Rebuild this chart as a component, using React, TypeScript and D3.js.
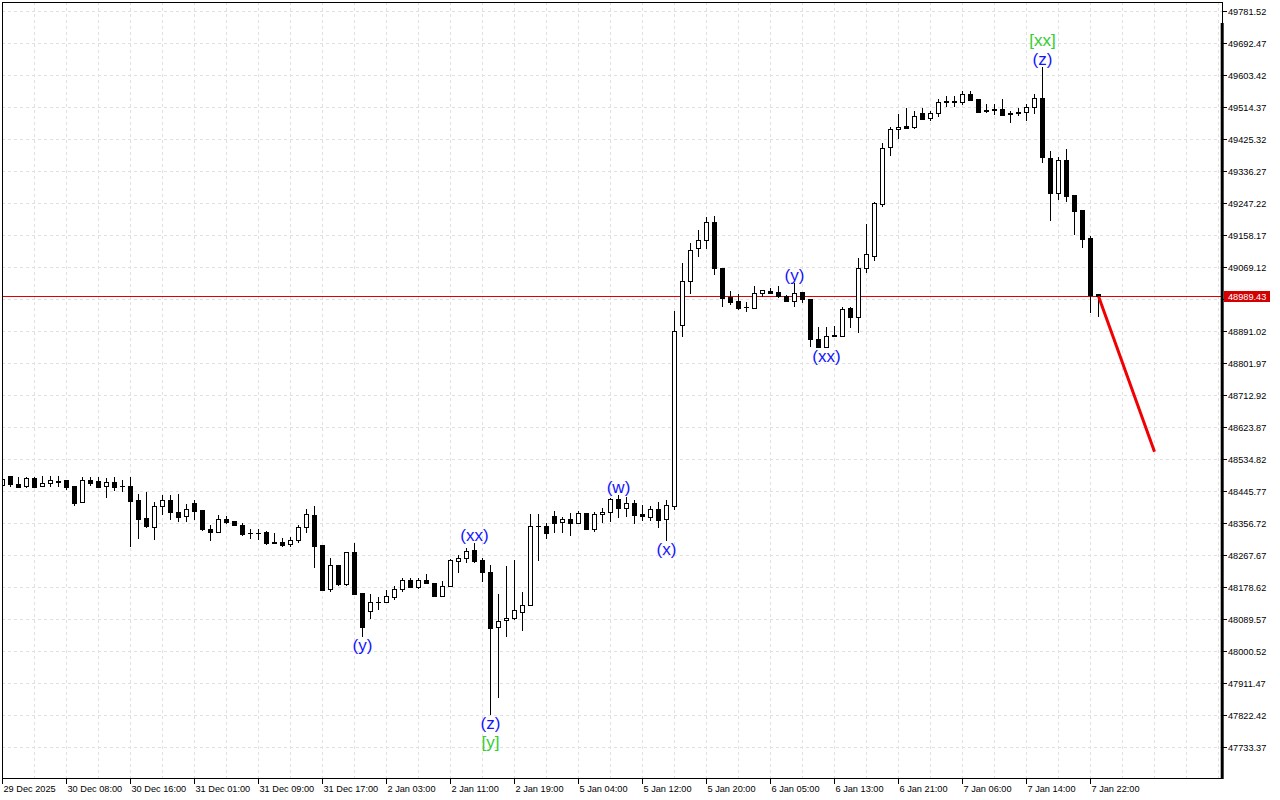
import React from "react";
import * as d3 from "d3";

// hourly candles, oldest first
const opens = [
  48464, 48489, 48467, 48462, 48485, 48462, 48469, 48476, 48478, 48461,
  48418, 48477, 48476, 48462, 48472, 48462, 48462, 48423, 48372, 48348,
  48406, 48423, 48390, 48379, 48415, 48394, 48342, 48334, 48370, 48364,
  48353, 48331, 48330, 48333, 48306, 48307, 48300, 48311, 48347, 48381,
  48297, 48174, 48243, 48188, 48277, 48163, 48115, 48138, 48140, 48154,
  48174, 48200, 48181, 48200, 48191, 48156, 48184, 48254, 48260, 48284,
  48256, 48221, 48070, 48089, 48093, 48112, 48131, 48351, 48351, 48378,
  48362, 48370, 48358, 48386, 48341, 48383, 48388, 48425, 48400, 48413,
  48385, 48376, 48399, 48369, 48406.8, 48909.6, 49032.9, 49123.1, 49146.2, 49195.4,
  49069.2, 48988.5, 48976.4, 48960.6, 48957.8, 48997.9, 49005.2, 49000.7, 48991.3, 48976.4,
  49000.7, 48981.2, 48869.9, 48849.3, 48879.1, 48879.9, 48956.1, 48931.1, 49067.5, 49102.5,
  49245.5, 49404.1, 49454.2, 49463.5, 49461.5, 49498.8, 49486.6, 49498.8, 49529.4, 49532.2,
  49529.4, 49552.5, 49538.6, 49507.9, 49507.9, 49510.7, 49498.8, 49500.4, 49501.6, 49517.2,
  49540.5, 49373.5, 49277.8, 49368.8, 49271.4, 49229.7, 49152.6, 48995.2,
];
const highs = [
  48487, 48490, 48488, 48487, 48488, 48490, 48490, 48490, 48478, 48462,
  48488, 48488, 48488, 48485, 48488, 48477, 48488, 48439, 48444, 48416,
  48437, 48437, 48439, 48412, 48423, 48395, 48353, 48381, 48378, 48364,
  48359, 48343, 48343, 48336, 48330, 48317, 48319, 48353, 48397, 48406,
  48297, 48260, 48243, 48279, 48304, 48163, 48161, 48154, 48172, 48182,
  48207, 48206, 48206, 48216, 48193, 48197, 48258, 48270, 48288, 48302,
  48260, 48242, 48161, 48239, 48256, 48168, 48384, 48384, 48358, 48392,
  48376, 48386, 48393, 48386, 48390, 48400, 48427, 48437, 48432, 48423,
  48409, 48406, 48417, 48422, 48949.4, 49081.4, 49137.0, 49174.0, 49211.0, 49213.8,
  49069.2, 49005.2, 48995.2, 48974.5, 49018.2, 49007.0, 49011.8, 49018.2, 48993.2, 49027.4,
  49000.7, 48981.2, 48904.9, 48904.9, 48907.7, 48958.9, 48960.6, 49095.3, 49190.7, 49252.8,
  49416.9, 49459.8, 49497.1, 49512.7, 49505.2, 49512.7, 49506.0, 49538.6, 49546.9, 49546.9,
  49560.8, 49561.7, 49538.6, 49524.1, 49524.1, 49538.6, 49505.2, 49512.7, 49524.1, 49552.5,
  49628.5, 49393.9, 49377.9, 49399.4, 49271.4, 49229.7, 49157.3, 48995.2,
];
const lows = [
  48459, 48458, 48459, 48455, 48455, 48460, 48459, 48459, 48451, 48407,
  48415, 48462, 48455, 48429, 48448, 48444, 48293, 48314, 48344, 48311,
  48381, 48367, 48362, 48362, 48367, 48337, 48309, 48332, 48355, 48350,
  48323, 48313, 48311, 48297, 48300, 48291, 48293, 48304, 48332, 48234,
  48170, 48168, 48183, 48183, 48158, 48042, 48091, 48117, 48137, 48144,
  48168, 48179, 48175, 48189, 48156, 48152, 48181, 48220, 48248, 48248,
  48195, 47824, 47872, 48041, 48089, 48059, 48128, 48254, 48315, 48330,
  48330, 48323, 48358, 48341, 48335, 48359, 48362, 48373, 48376, 48357,
  48365, 48365, 48344, 48309, 48394.9, 48877.1, 48995.9, 49098.0, 49121.2, 49048.8,
  48960.6, 48965.3, 48951.4, 48946.7, 48954.1, 48986.7, 48995.2, 48985.6, 48972.8, 48960.6,
  48970.1, 48849.3, 48846.5, 48844.8, 48875.5, 48875.5, 48902.1, 48886.6, 49055.2, 49088.6,
  49238.9, 49380.7, 49427.3, 49457.1, 49454.2, 49480.2, 49478.2, 49489.3, 49517.2, 49517.2,
  49521.9, 49533.0, 49501.6, 49498.8, 49494.1, 49492.1, 49470.9, 49491.3, 49478.2, 49496.0,
  49359.6, 49199.9, 49257.5, 49252.8, 49160.1, 49124.8, 48944.0, 48932.8,
];
const closes = [
  48481, 48466, 48459, 48485, 48459, 48471, 48478, 48474, 48459, 48415,
  48477, 48471, 48459, 48472, 48459, 48461, 48421, 48370, 48351, 48406,
  48423, 48388, 48376, 48399, 48393, 48342, 48334, 48369, 48361, 48353,
  48328, 48330, 48331, 48304, 48304, 48297, 48311, 48347, 48384, 48295,
  48172, 48242, 48188, 48277, 48160, 48070, 48138, 48140, 48156, 48175,
  48200, 48181, 48200, 48191, 48156, 48184, 48256, 48260, 48281, 48254,
  48221, 48067, 48086, 48095, 48116, 48131, 48351, 48349, 48330, 48359,
  48370, 48358, 48386, 48341, 48384, 48388, 48425, 48400, 48413, 48382,
  48377, 48399, 48368, 48409, 48892.9, 49032.1, 49118.4, 49146.2, 49195.4, 49069.2,
  48985.6, 48974.5, 48957.8, 48958.9, 48997.9, 49007.0, 48999.6, 48990.4, 48976.4, 48999.6,
  48981.2, 48869.9, 48849.3, 48879.9, 48881.9, 48953.4, 48931.1, 49069.2, 49106.4, 49248.3,
  49401.3, 49455.1, 49460.7, 49458.8, 49492.1, 49482.9, 49498.8, 49529.4, 49532.2, 49531.5,
  49552.5, 49535.8, 49503.2, 49505.2, 49510.7, 49494.1, 49496.0, 49503.2, 49515.5, 49540.5,
  49377.9, 49277.8, 49368.8, 49268.6, 49227.7, 49149.0, 48992.4, 48989.43,
];

const priceTicks = [
  49781.52, 49692.47, 49603.42, 49514.37, 49425.32, 49336.27, 49247.22, 49158.17,
  49069.12, 48980.07, 48891.02, 48801.97, 48712.92, 48623.87, 48534.82, 48445.77,
  48356.72, 48267.67, 48178.62, 48089.57, 48000.52, 47911.47, 47822.42, 47733.37,
];
const timeLabels = [
  "29 Dec 2025", "30 Dec 08:00", "30 Dec 16:00", "31 Dec 01:00", "31 Dec 09:00",
  "31 Dec 17:00", "2 Jan 03:00", "2 Jan 11:00", "2 Jan 19:00", "5 Jan 04:00",
  "5 Jan 12:00", "5 Jan 20:00", "6 Jan 05:00", "6 Jan 13:00", "6 Jan 21:00",
  "7 Jan 06:00", "7 Jan 14:00", "7 Jan 22:00",
];
const barsPerLabel = 8;

const currentPrice = 48989.43;

// wave marks: bar index, text, above/below, stack level
const waveIdx = [45, 59, 61, 61, 77, 83, 99, 103, 130, 130];
const waveText = ["(y)", "(xx)", "(z)", "[y]", "(w)", "(x)", "(y)", "(xx)", "(z)", "[xx]"];
const waveAbove = [false, true, false, false, true, false, true, false, true, true];
const waveLevel = [0, 0, 0, 1, 0, 0, 0, 0, 0, 1];

// projected move
const forecastIdx = [137, 144];
const forecastPrice = [48989.43, 48557];

const W = 1280;
const H = 800;
const left = 2;
const top = 2;
const right = 1222;
const bottom = 778;

export default function App() {
  const x = d3.scaleLinear().domain([0, 137]).range([2.5, 1098.5]);
  const y = d3
    .scaleLinear()
    .domain([priceTicks[priceTicks.length - 1], priceTicks[0]])
    .range([747.7, 11.7]);

  const crisp = (v: number) => Math.floor(v) + 0.5;

  const vGrid: number[] = [];
  for (let i = 4; x(i) < right - 2; i += 4) vGrid.push(i);

  const line = d3
    .line<number>()
    .x((d, i) => x(forecastIdx[i]))
    .y((d) => y(d));

  const yCur = crisp(y(currentPrice));
  const axisFont = "'Liberation Sans', Arial, sans-serif";

  return (
    <svg
      width={W}
      height={H}
      style={{ position: "absolute", left: 0, top: 0, background: "#fff" }}
    >
      <rect x={0} y={0} width={W} height={H} fill="#fff" />
      <defs>
        <clipPath id="plot">
          <rect x={left} y={top} width={right - left} height={bottom - top} />
        </clipPath>
      </defs>

      {/* grid */}
      <g stroke="#e0e0e0" strokeDasharray="3,3" shapeRendering="crispEdges">
        {priceTicks.map((t) => (
          <line key={"h" + t} x1={left} x2={right} y1={crisp(y(t))} y2={crisp(y(t))} />
        ))}
        {vGrid.map((i) => (
          <line key={"v" + i} x1={x(i)} x2={x(i)} y1={top} y2={bottom} />
        ))}
      </g>

      {/* current price line */}
      <line x1={left} x2={right} y1={yCur} y2={yCur} stroke="#e00000" strokeWidth={1} />

      {/* candles */}
      <g clipPath="url(#plot)" shapeRendering="crispEdges">
        {opens.map((o, i) => {
          const c = closes[i];
          const cx = x(i);
          const yt = Math.round(y(Math.max(o, c)));
          const yb = Math.round(y(Math.min(o, c)));
          const bull = c >= o;
          return (
            <g key={i}>
              <line x1={cx} x2={cx} y1={y(highs[i])} y2={y(lows[i])} stroke="#000" strokeWidth={1} />
              {yb - yt < 1 ? (
                <line x1={cx - 2.5} x2={cx + 2.5} y1={yt + 0.5} y2={yt + 0.5} stroke="#000" />
              ) : bull ? (
                <rect x={cx - 2} y={yt + 0.5} width={4} height={yb - yt} fill="#fff" stroke="#000" strokeWidth={1} />
              ) : (
                <rect x={cx - 2.5} y={yt} width={5} height={yb - yt + 1} fill="#000" />
              )}
            </g>
          );
        })}
      </g>

      {/* forecast */}
      <path d={line(forecastPrice) || ""} stroke="#f00000" strokeWidth={3} fill="none" />

      {/* wave labels */}
      <g fontFamily={axisFont} fontSize={17} textAnchor="middle">
        {waveIdx.map((bi, k) => {
          const off = 8 + 19 * waveLevel[k];
          const cy = waveAbove[k] ? y(highs[bi]) - off : y(lows[bi]) + off;
          const green = waveText[k].startsWith("[");
          return (
            <text key={k} x={x(bi)} y={cy} dy="0.35em" fill={green ? "#32cd32" : "#1414ff"}>
              {waveText[k]}
            </text>
          );
        })}
      </g>

      {/* frame */}
      <rect
        x={left + 0.5}
        y={top + 0.5}
        width={right - left}
        height={bottom - top}
        fill="none"
        stroke="#000"
        strokeWidth={1}
        shapeRendering="crispEdges"
      />
      <line x1={right + 0.2} x2={right + 0.2} y1={23} y2={bottom + 1} stroke="#000" strokeWidth={3} />

      {/* price axis */}
      <g fontFamily={axisFont} fontSize={9.2} fill="#000">
        {priceTicks.map((t) => (
          <g key={"t" + t}>
            <line x1={right + 1} x2={right + 5} y1={crisp(y(t))} y2={crisp(y(t))} stroke="#000" shapeRendering="crispEdges" />
            {/* label under the current-price tag is hidden, as in the terminal */}
            {Math.abs(y(t) - yCur) > 8 && (
              <text x={right + 6} y={y(t) + 3.5}>
                {t.toFixed(2)}
              </text>
            )}
          </g>
        ))}
        <rect x={right + 2} y={yCur - 5.5} width={46} height={11} fill="#d40000" />
        <text x={right + 6} y={yCur + 3.3} fill="#fff">
          {currentPrice.toFixed(2)}
        </text>
      </g>

      {/* time axis */}
      <g fontFamily={axisFont} fontSize={9.2} fill="#000">
        {timeLabels.map((lab, k) => {
          const tx = x(k * barsPerLabel);
          return (
            <g key={lab}>
              <line x1={tx} x2={tx} y1={bottom + 1} y2={bottom + 6} stroke="#000" shapeRendering="crispEdges" />
              <text x={tx + 1} y={792}>
                {lab}
              </text>
            </g>
          );
        })}
      </g>
    </svg>
  );
}
